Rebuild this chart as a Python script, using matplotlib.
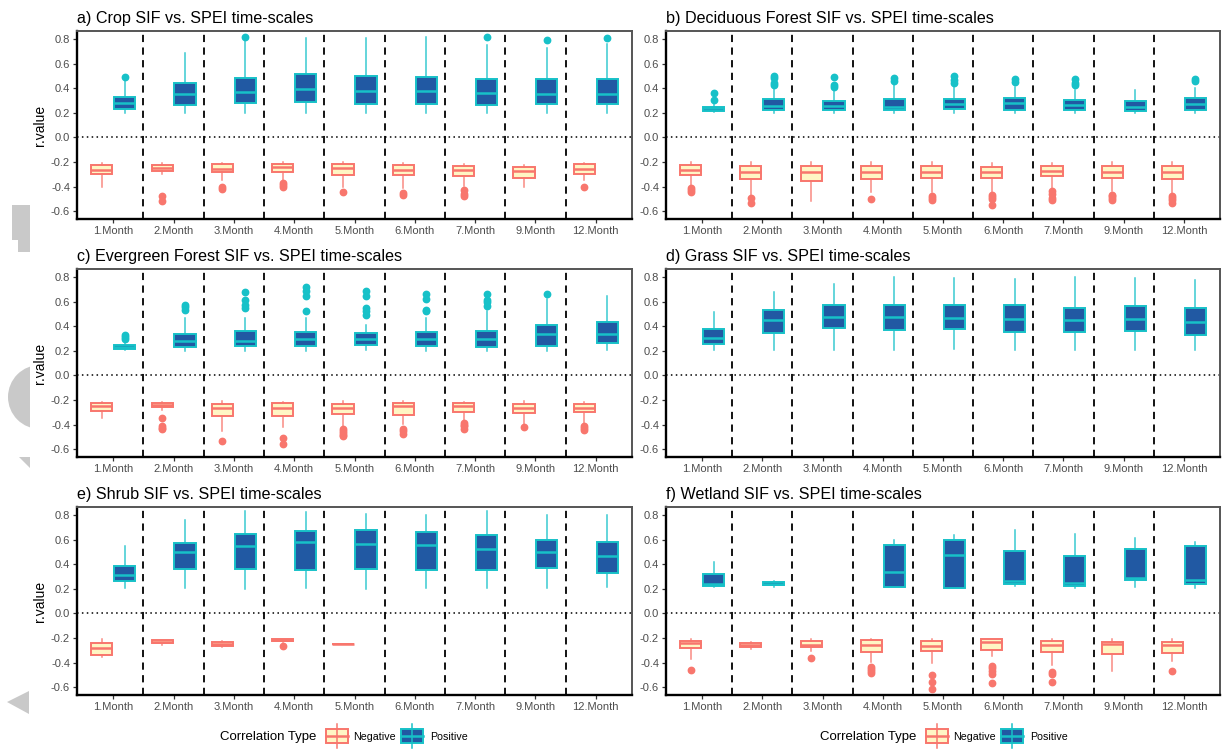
import matplotlib
matplotlib.use("Agg")
import matplotlib.pyplot as plt
from matplotlib.patches import Rectangle, Polygon, Circle
from matplotlib.lines import Line2D

plt.rcParams["font.family"] = ["Liberation Sans", "DejaVu Sans"]
plt.rcParams["axes.unicode_minus"] = False

MONTHS = ["1.Month", "2.Month", "3.Month", "4.Month", "5.Month",
          "6.Month", "7.Month", "9.Month", "12.Month"]
TYPES = ["Negative", "Positive"]
TITLES = ["a) Crop SIF vs. SPEI time-scales",
          "b) Deciduous Forest SIF vs. SPEI time-scales",
          "c) Evergreen Forest SIF vs. SPEI time-scales",
          "d) Grass SIF vs. SPEI time-scales",
          "e) Shrub SIF vs. SPEI time-scales",
          "f) Wetland SIF vs. SPEI time-scales"]
Y_TICKS = [-0.6, -0.4, -0.2, 0.0, 0.2, 0.4, 0.6, 0.8]

# five-number summaries (whisker low, Q1, median, Q3, whisker high) per month
crop_pos = [(0.20, 0.235, 0.28, 0.33, 0.46), (0.20, 0.265, 0.35, 0.446, 0.69),
            (0.20, 0.278, 0.373, 0.484, 0.78), (0.20, 0.286, 0.39, 0.516, 0.805),
            (0.20, 0.273, 0.38, 0.503, 0.805), (0.20, 0.273, 0.38, 0.495, 0.82),
            (0.20, 0.265, 0.36, 0.473, 0.75), (0.20, 0.273, 0.355, 0.473, 0.73),
            (0.20, 0.273, 0.355, 0.473, 0.76)]
crop_pos_out = [[0.49], [], [0.82], [], [], [], [0.82], [0.79], [0.805]]
crop_neg = [(-0.40, -0.297, -0.262, -0.222, -0.208), (-0.30, -0.276, -0.25, -0.222, -0.21),
            (-0.343, -0.284, -0.254, -0.219, -0.21), (-0.357, -0.278, -0.243, -0.216, -0.203),
            (-0.40, -0.303, -0.249, -0.216, -0.203), (-0.41, -0.308, -0.262, -0.222, -0.208),
            (-0.397, -0.311, -0.262, -0.232, -0.213), (-0.405, -0.33, -0.276, -0.24, -0.227),
            (-0.343, -0.295, -0.257, -0.219, -0.208)]
crop_neg_out = [[], [-0.478, -0.52], [-0.40, -0.42], [-0.37, -0.39, -0.405], [-0.446],
                [-0.45, -0.465], [-0.43, -0.462, -0.478], [], [-0.405]]

decid_pos = [(0.205, 0.211, 0.238, 0.246, 0.27), (0.20, 0.219, 0.255, 0.311, 0.39),
             (0.20, 0.219, 0.257, 0.30, 0.39), (0.20, 0.219, 0.25, 0.313, 0.44),
             (0.20, 0.227, 0.27, 0.313, 0.41), (0.20, 0.224, 0.278, 0.32, 0.41),
             (0.20, 0.224, 0.26, 0.305, 0.386), (0.20, 0.216, 0.25, 0.297, 0.386),
             (0.20, 0.224, 0.27, 0.319, 0.405)]
decid_pos_out = [[0.305, 0.36], [0.43, 0.446, 0.48, 0.50], [0.41, 0.43, 0.49], [0.46, 0.48],
                 [0.44, 0.47, 0.50], [0.454, 0.476], [0.424, 0.446, 0.476], [], [0.46, 0.473]]
decid_neg = [(-0.397, -0.303, -0.262, -0.222, -0.203), (-0.465, -0.338, -0.284, -0.235, -0.203),
             (-0.52, -0.357, -0.28, -0.235, -0.20), (-0.44, -0.338, -0.284, -0.235, -0.203),
             (-0.44, -0.33, -0.28, -0.235, -0.203), (-0.45, -0.33, -0.284, -0.243, -0.208),
             (-0.424, -0.316, -0.276, -0.235, -0.208), (-0.438, -0.33, -0.28, -0.235, -0.203),
             (-0.45, -0.338, -0.28, -0.235, -0.203)]
decid_neg_out = [[-0.41, -0.43, -0.446], [-0.49, -0.53], [], [-0.497], [-0.48, -0.495, -0.51],
                 [-0.465, -0.484, -0.50, -0.546], [-0.438, -0.457, -0.49, -0.505],
                 [-0.465, -0.48, -0.495, -0.505], [-0.478, -0.495, -0.51, -0.53]]

everg_pos = [(0.209, 0.214, 0.228, 0.244, 0.263), (0.20, 0.228, 0.277, 0.336, 0.467),
             (0.20, 0.236, 0.282, 0.364, 0.467), (0.20, 0.236, 0.298, 0.353, 0.47),
             (0.205, 0.247, 0.298, 0.345, 0.41), (0.20, 0.241, 0.298, 0.353, 0.467),
             (0.20, 0.228, 0.298, 0.358, 0.52), (0.20, 0.241, 0.336, 0.407, 0.62),
             (0.209, 0.263, 0.336, 0.434, 0.648)]
everg_pos_out = [[0.30, 0.315, 0.33], [0.535, 0.56, 0.575], [0.548, 0.575, 0.61, 0.675],
                 [0.52, 0.643, 0.684, 0.72], [0.494, 0.52, 0.548, 0.643, 0.684],
                 [0.52, 0.534, 0.62, 0.665], [0.565, 0.60, 0.616, 0.665], [0.665], []]
everg_neg = [(-0.35, -0.288, -0.252, -0.225, -0.214), (-0.28, -0.26, -0.244, -0.222, -0.214),
             (-0.448, -0.326, -0.266, -0.23, -0.207), (-0.42, -0.326, -0.266, -0.225, -0.214),
             (-0.42, -0.312, -0.266, -0.23, -0.207), (-0.393, -0.32, -0.252, -0.225, -0.21),
             (-0.374, -0.296, -0.252, -0.225, -0.214), (-0.393, -0.307, -0.266, -0.23, -0.207),
             (-0.40, -0.30, -0.266, -0.23, -0.22)]
everg_neg_out = [[], [-0.342, -0.41, -0.425, -0.435], [-0.537], [-0.505, -0.559],
                 [-0.437, -0.455, -0.47, -0.485, -0.496], [-0.437, -0.455, -0.477],
                 [-0.388, -0.40, -0.415, -0.437], [-0.423], [-0.415, -0.43, -0.442]]

grass_pos = [(0.209, 0.255, 0.304, 0.38, 0.515), (0.209, 0.345, 0.453, 0.529, 0.678),
             (0.209, 0.385, 0.475, 0.57, 0.746), (0.209, 0.372, 0.475, 0.57, 0.798),
             (0.214, 0.38, 0.47, 0.57, 0.792), (0.209, 0.353, 0.461, 0.57, 0.784),
             (0.209, 0.353, 0.453, 0.548, 0.798), (0.209, 0.364, 0.461, 0.561, 0.792),
             (0.209, 0.331, 0.431, 0.548, 0.773)]
grass_pos_out = [[] for _ in MONTHS]
grass_neg = [None] * 9
grass_neg_out = [[] for _ in MONTHS]

shrub_pos = [(0.206, 0.265, 0.314, 0.386, 0.547), (0.206, 0.359, 0.496, 0.574, 0.761),
             (0.20, 0.359, 0.55, 0.649, 0.831), (0.206, 0.354, 0.579, 0.67, 0.828),
             (0.20, 0.365, 0.568, 0.676, 0.81), (0.206, 0.354, 0.56, 0.662, 0.804),
             (0.206, 0.349, 0.523, 0.64, 0.836), (0.206, 0.367, 0.496, 0.60, 0.796),
             (0.214, 0.327, 0.47, 0.582, 0.796)]
shrub_pos_out = [[] for _ in MONTHS]
shrub_neg = [(-0.357, -0.338, -0.281, -0.244, -0.209), (-0.255, -0.241, -0.23, -0.217, -0.213),
             (-0.27, -0.263, -0.247, -0.23, -0.227), (-0.23, -0.228, -0.217, -0.209, -0.205),
             (-0.252, -0.252, -0.249, -0.246, -0.245), None, None, None, None]
shrub_neg_out = [[], [], [], [-0.268], [], [], [], [], []]

wet_pos = [(0.214, 0.22, 0.239, 0.319, 0.416), (0.214, 0.228, 0.239, 0.257, 0.26), None,
           (0.214, 0.214, 0.34, 0.56, 0.595), (0.206, 0.206, 0.475, 0.60, 0.64),
           (0.225, 0.239, 0.26, 0.507, 0.676), (0.206, 0.225, 0.25, 0.469, 0.649),
           (0.214, 0.268, 0.287, 0.52, 0.617), (0.206, 0.241, 0.273, 0.547, 0.58)]
wet_pos_out = [[] for _ in MONTHS]
wet_neg = [(-0.37, -0.284, -0.241, -0.223, -0.204), (-0.29, -0.271, -0.257, -0.244, -0.23),
           (-0.303, -0.276, -0.255, -0.223, -0.209), (-0.397, -0.311, -0.257, -0.217, -0.204),
           (-0.402, -0.308, -0.263, -0.223, -0.204), (-0.343, -0.298, -0.236, -0.209, -0.204),
           (-0.418, -0.316, -0.255, -0.223, -0.209), (-0.464, -0.33, -0.249, -0.23, -0.204),
           (-0.389, -0.324, -0.257, -0.236, -0.204)]
wet_neg_out = [[-0.458], [], [-0.365], [-0.437, -0.45, -0.464, -0.483], [-0.504, -0.558, -0.611],
               [-0.424, -0.445, -0.469, -0.496, -0.566], [-0.472, -0.49, -0.558], [], [-0.464]]

PANELS = [(crop_neg, crop_neg_out, crop_pos, crop_pos_out),
          (decid_neg, decid_neg_out, decid_pos, decid_pos_out),
          (everg_neg, everg_neg_out, everg_pos, everg_pos_out),
          (grass_neg, grass_neg_out, grass_pos, grass_pos_out),
          (shrub_neg, shrub_neg_out, shrub_pos, shrub_pos_out),
          (wet_neg, wet_neg_out, wet_pos, wet_pos_out)]

NEG_FILL, NEG_EDGE = "#FFF6C4", "#F8766D"
POS_FILL, POS_EDGE = "#2159A3", "#17C1C8"
TICK_GREY = "#4D4D4D"

W, H = 1225, 749
fig = plt.figure(figsize=(W / 100, H / 100), dpi=100)

COL_X = [(77, 555), (666, 554)]
ROW_TOP = [31, 269, 507]
AX_H = 188


def draw_boxes(ax, stats, outs, offset, fill, edge):
    data, pos = [], []
    for i, (s, o) in enumerate(zip(stats, outs)):
        if s is None:
            continue
        lo, q1, med, q3, hi = s
        data.append(dict(whislo=lo, q1=q1, med=med, q3=q3, whishi=hi, fliers=o))
        pos.append(i + 1 + offset)
    if not data:
        return
    ax.bxp(data, positions=pos, widths=0.35, patch_artist=True, showcaps=False,
           boxprops=dict(facecolor=fill, edgecolor=edge, linewidth=1.4),
           medianprops=dict(color=edge, linewidth=1.8),
           whiskerprops=dict(color=edge, linewidth=1.1, alpha=0.85),
           flierprops=dict(marker="o", markerfacecolor=edge, markeredgecolor=edge,
                           markersize=4.6, linestyle="none"),
           zorder=3, manage_ticks=False)


for k, (neg, neg_out, pos, pos_out) in enumerate(PANELS):
    row, col = divmod(k, 2)
    x0, w = COL_X[col]
    top = ROW_TOP[row]
    ax = fig.add_axes([x0 / W, 1 - (top + AX_H) / H, w / W, AX_H / H])
    ax.set_xlim(0.4, len(MONTHS) + 0.6)
    ax.set_ylim(-0.663, 0.865)

    for b in range(1, len(MONTHS)):
        ax.axvline(b + 0.5, color="black", linestyle=(0, (4, 3)), linewidth=1.3, zorder=1)
    ax.axhline(0.0, color="black", linestyle=(0, (1, 2.2)), linewidth=1.1, zorder=1)

    draw_boxes(ax, neg, neg_out, -0.19, NEG_FILL, NEG_EDGE)
    draw_boxes(ax, pos, pos_out, 0.19, POS_FILL, POS_EDGE)

    ax.set_xticks(range(1, len(MONTHS) + 1))
    ax.set_xticklabels(MONTHS)
    ax.set_yticks(Y_TICKS)
    ax.set_yticklabels([f"{v:.1f}" for v in Y_TICKS])
    ax.tick_params(axis="both", labelsize=8, labelcolor=TICK_GREY, color="#333333",
                   length=3, width=0.9, pad=2)

    for side in ("left", "bottom"):
        ax.spines[side].set_color("black")
        ax.spines[side].set_linewidth(1.7)
    for side in ("top", "right"):
        ax.spines[side].set_color("#555555")
        ax.spines[side].set_linewidth(1.4)

    ax.set_title(TITLES[k], loc="left", fontsize=11.6, pad=6, color="black")
    if col == 0:
        ax.set_ylabel("r.value", fontsize=10, labelpad=3)

# overlay in pixel coordinates for the legends and margin shapes
ov = fig.add_axes([0, 0, 1, 1], zorder=-1)
ov.set_xlim(0, W)
ov.set_ylim(H, 0)
ov.axis("off")

# pale grey shapes along the left margin
GREY = "#C9C9C9"
ov.add_patch(Polygon([(12, 205), (30, 205), (30, 252), (18, 252), (18, 240), (12, 240)],
                     closed=True, facecolor=GREY, edgecolor="none"))
disc = Circle((40, 397), 32, facecolor=GREY, edgecolor="none")
ov.add_patch(disc)
disc.set_clip_path(Rectangle((0, 0), 30, H, transform=ov.transData))
ov.add_patch(Polygon([(19, 457), (30, 457), (30, 468)], closed=True,
                     facecolor=GREY, edgecolor="none"))
ov.add_patch(Polygon([(7, 702), (29, 691), (29, 714)], closed=True,
                     facecolor=GREY, edgecolor="none"))


def legend_key(x, fill, edge):
    yc = 736
    ov.add_line(Line2D([x + 11, x + 11], [724, 748], color=edge, linewidth=1.1))
    ov.add_patch(Rectangle((x, yc - 7), 22, 14, facecolor=fill, edgecolor=edge, linewidth=1.4))
    ov.add_line(Line2D([x, x + 22], [yc, yc], color=edge, linewidth=1.8))


for dx in (0, 600):
    ov.text(220 + dx, 737, "Correlation Type", fontsize=9.5, va="center", ha="left")
    legend_key(326 + dx, NEG_FILL, NEG_EDGE)
    ov.text(353 + dx, 737, TYPES[0], fontsize=7.7, va="center", ha="left")
    legend_key(401 + dx, POS_FILL, POS_EDGE)
    ov.text(430 + dx, 737, TYPES[1], fontsize=7.7, va="center", ha="left")

fig.savefig("out.png", dpi=100)
